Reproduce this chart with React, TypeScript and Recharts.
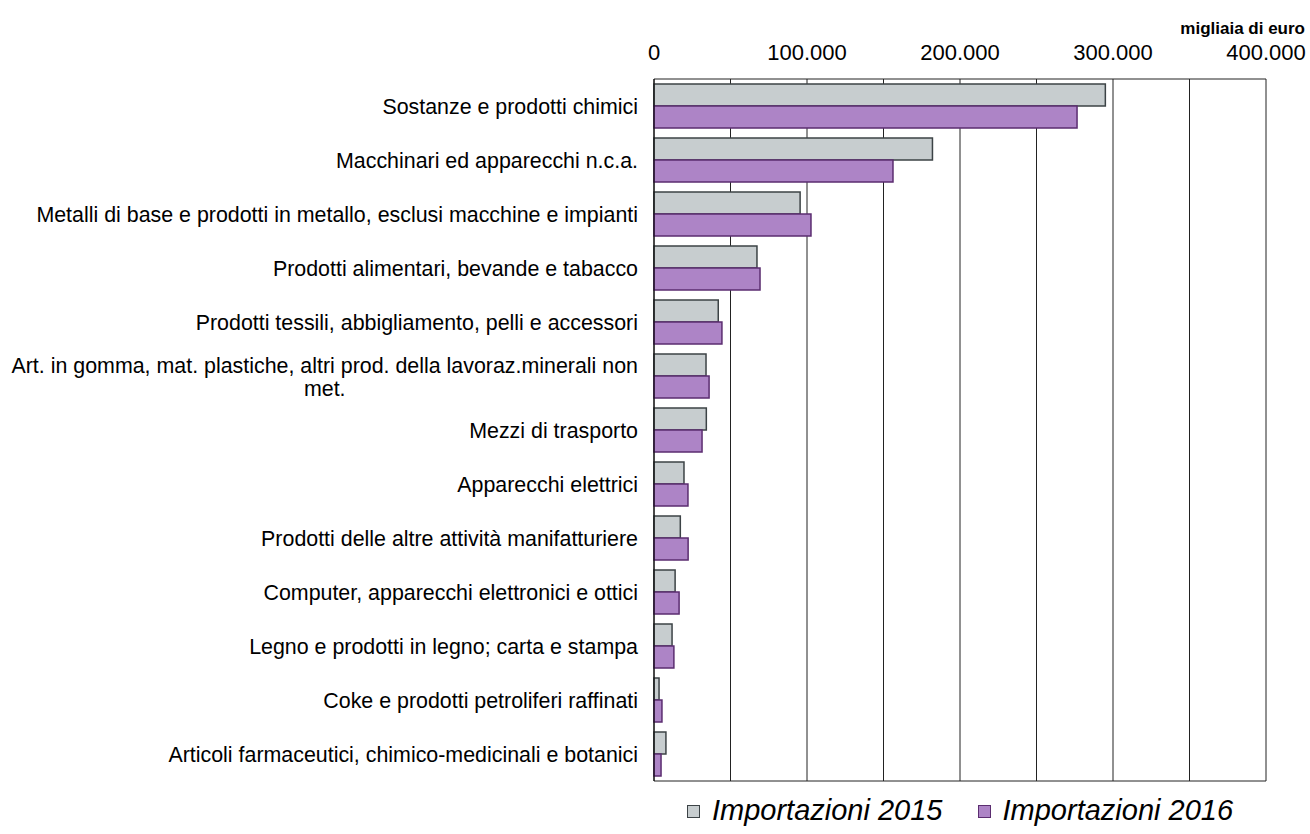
import React from "react";
import { Bar, BarChart, CartesianGrid, Label, Legend, XAxis, YAxis } from "recharts";

const categories = [
  "Sostanze e prodotti chimici",
  "Macchinari ed apparecchi n.c.a.",
  "Metalli di base e prodotti in metallo, esclusi macchine e impianti",
  "Prodotti alimentari, bevande e tabacco",
  "Prodotti tessili, abbigliamento, pelli e accessori",
  "Art. in gomma, mat. plastiche, altri prod. della lavoraz.minerali non\nmet.",
  "Mezzi di trasporto",
  "Apparecchi elettrici",
  "Prodotti delle altre attività manifatturiere",
  "Computer, apparecchi elettronici e ottici",
  "Legno e prodotti in legno; carta e stampa",
  "Coke e prodotti petroliferi raffinati",
  "Articoli farmaceutici, chimico-medicinali e botanici",
];

// migliaia di euro
const importazioni2015 = [295000, 182000, 95500, 67300, 42000, 34000, 34200, 19600, 17200, 13800, 11800, 3300, 7800];
const importazioni2016 = [276500, 156200, 102600, 69300, 44400, 36000, 31400, 22200, 22300, 16400, 13000, 5200, 4600];

const xTicks = [0, 50000, 100000, 150000, 200000, 250000, 300000, 350000, 400000];

const seriesNames = ["Importazioni 2015", "Importazioni 2016"];
const seriesColors = ["#c7cdcf", "#ad84c6"];
const seriesStrokes = ["#3c4346", "#5b2d70"];

const data = categories.map((name, i) => ({
  name,
  v2015: importazioni2015[i],
  v2016: importazioni2016[i],
}));

const FONT = "'Liberation Sans', Arial, sans-serif";
const LABEL_SIZE = 21.4;

let ctx: CanvasRenderingContext2D | null = null;
function measure(text: string, font: string): number {
  if (!ctx) ctx = document.createElement("canvas").getContext("2d");
  if (!ctx) return text.length * 10;
  ctx.font = font;
  return ctx.measureText(text).width;
}

function formatTick(v: number): string {
  if (v % 100000 !== 0) return "";
  return String(v).replace(/\B(?=(\d{3})+(?!\d))/g, ".");
}

function CategoryTick(props: any) {
  const { x, y, payload } = props;
  const lines: string[] = String(payload.value).split("\n");
  if (lines.length === 1) {
    return (
      <text x={x} y={y} dy={8} textAnchor="end" fontSize={LABEL_SIZE} fontFamily={FONT} fill="#000">
        {lines[0]}
      </text>
    );
  }
  const maxW = Math.max(...lines.map((l) => measure(l, `${LABEL_SIZE}px ${FONT}`)));
  const lh = 23;
  const startY = y - ((lines.length - 1) * lh) / 2 + 8;
  return (
    <text fontSize={LABEL_SIZE} fontFamily={FONT} fill="#000" textAnchor="middle">
      {lines.map((l, i) => (
        <tspan key={i} x={x - maxW / 2} y={startY + i * lh}>
          {l}
        </tspan>
      ))}
    </text>
  );
}

function UnitLabel(props: any) {
  const { viewBox } = props;
  return (
    <text
      x={viewBox.x + viewBox.width + 39}
      y={viewBox.y + 34}
      textAnchor="end"
      fontSize={17}
      fontWeight="bold"
      fontFamily={FONT}
      fill="#000"
    >
      migliaia di euro
    </text>
  );
}

function LegendContent() {
  return (
    <div
      style={{
        height: 53,
        paddingTop: 14,
        boxSizing: "border-box",
        display: "flex",
        justifyContent: "center",
        alignItems: "flex-start",
        fontFamily: FONT,
        fontStyle: "italic",
        fontSize: 29,
        lineHeight: "30px",
        color: "#000",
      }}
    >
      {seriesNames.map((n, i) => (
        <div key={n} style={{ display: "flex", alignItems: "center", marginLeft: i ? 35 : 0 }}>
          <span
            style={{
              display: "inline-block",
              width: 11,
              height: 11,
              background: seriesColors[i],
              border: `1.5px solid ${seriesStrokes[i]}`,
              marginRight: 12,
              marginTop: 3,
            }}
          />
          <span>{n}</span>
        </div>
      ))}
    </div>
  );
}

export default function App(): React.JSX.Element {
  return (
    <div style={{ position: "absolute", left: 0, top: 0, background: "#fff" }}>
      <BarChart
        width={1310}
        height={834}
        data={data}
        layout="vertical"
        margin={{ top: 0, right: 44, bottom: 0, left: 0 }}
        barGap={0}
        barSize={22}
      >
        <CartesianGrid
          stroke="#222"
          horizontalCoordinatesGenerator={({ offset }: any) => [offset.top, offset.top + offset.height]}
        />
        <XAxis
          type="number"
          orientation="top"
          domain={[0, 400000]}
          ticks={xTicks}
          tickFormatter={formatTick}
          height={79}
          tickLine={false}
          axisLine={false}
          tickMargin={13}
          interval={0}
          tick={{ fontSize: 22, fontFamily: FONT, fill: "#000" }}
        >
          <Label content={<UnitLabel />} />
        </XAxis>
        <YAxis
          type="category"
          dataKey="name"
          width={654}
          tickLine={false}
          axisLine={{ stroke: "#000" }}
          tickMargin={10}
          interval={0}
          tick={<CategoryTick />}
        />
        <Legend
          verticalAlign="bottom"
          content={<LegendContent />}
          wrapperStyle={{ left: 654, width: 612 }}
        />
        <Bar
          dataKey="v2015"
          name={seriesNames[0]}
          fill={seriesColors[0]}
          stroke={seriesStrokes[0]}
          strokeWidth={1.5}
          isAnimationActive={false}
        />
        <Bar
          dataKey="v2016"
          name={seriesNames[1]}
          fill={seriesColors[1]}
          stroke={seriesStrokes[1]}
          strokeWidth={1.5}
          isAnimationActive={false}
        />
      </BarChart>
    </div>
  );
}
